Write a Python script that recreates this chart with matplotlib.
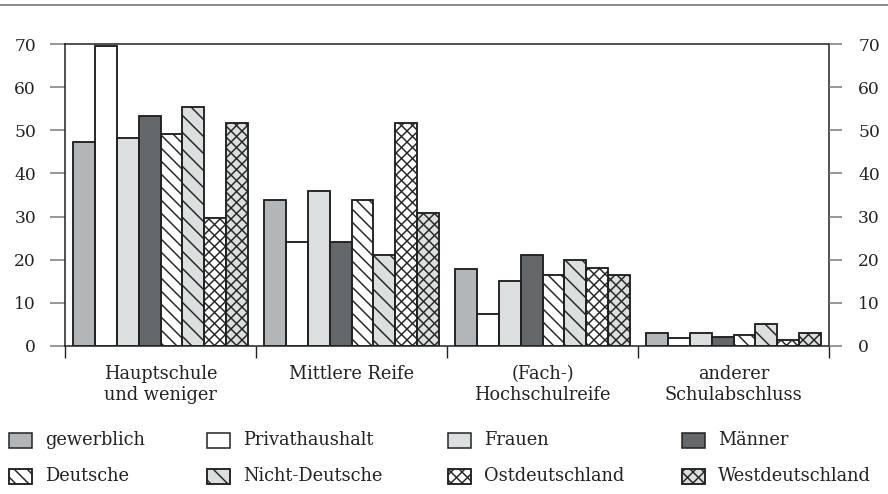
import numpy as np
import matplotlib
matplotlib.use('Agg')
import matplotlib.pyplot as plt
from matplotlib.patches import Rectangle
from matplotlib.lines import Line2D
from matplotlib.collections import LineCollection
from matplotlib.transforms import IdentityTransform

categories = ['Hauptschule\nund weniger', 'Mittlere Reife',
              '(Fach-)\nHochschulreife', 'anderer\nSchulabschluss']
series = ['gewerblich', 'Privathaushalt', 'Frauen', 'Männer',
          'Deutsche', 'Nicht-Deutsche', 'Ostdeutschland', 'Westdeutschland']

gewerblich = [47.2, 33.9, 17.8, 2.9]
privathaushalt = [69.5, 24.2, 7.4, 1.9]
frauen = [48.3, 36.0, 15.0, 3.0]
maenner = [53.4, 24.2, 21.1, 2.2]
deutsche = [49.2, 33.8, 16.4, 2.6]
nicht_deutsche = [55.3, 21.2, 20.0, 5.0]
ostdeutschland = [29.6, 51.7, 18.0, 1.4]
westdeutschland = [51.7, 30.9, 16.5, 2.9]
yticks = [0, 10, 20, 30, 40, 50, 60, 70]

values = [gewerblich, privathaushalt, frauen, maenner,
          deutsche, nicht_deutsche, ostdeutschland, westdeutschland]
fills = ['#b3b6b9', '#ffffff', '#dcdfe0', '#65686b',
         '#ffffff', '#dcdfe0', '#ffffff', '#dcdfe0']
# hatch: (pixel spacing, kind) ; 'b' = backslash lines, 'x' = cross
hatch_style = [None, None, None, None, (13, 'b'), (17, 'b'), (11, 'x'), (11, 'x')]
EDGE = '#222222'
W, H = 888, 494

plt.rcParams['font.family'] = ['DejaVu Serif']

fig = plt.figure(figsize=(W / 100, H / 100), dpi=100)
ax = fig.add_axes([65 / W, 1 - 346 / H, 764 / W, 302 / H])
ax.set_xlim(-0.5, 3.5)
ax.set_ylim(0, 70)


def hatch_lines(x0, y0, x1, y1, spacing, kind, zorder=3.5):
    # 45 degree lines in pixel space over the box (clip afterwards)
    segs = []
    for c in np.arange(np.floor((x0 + y0) / spacing) * spacing, x1 + y1 + spacing, spacing):
        segs.append([(c - y1 - 2, y1 + 2), (c - y0 + 2, y0 - 2)])
    if kind == 'x':
        for c in np.arange(np.floor((y0 - x1) / spacing) * spacing, y1 - x0 + spacing, spacing):
            segs.append([(y0 - c - 2, y0 - 2), (y1 - c + 2, y1 + 2)])
    return LineCollection(segs, colors=EDGE, linewidths=1.05,
                          transform=IdentityTransform(), zorder=zorder)


x = np.arange(len(categories))
w = 0.114
for i, (vals, fc, hs) in enumerate(zip(values, fills, hatch_style)):
    bars = ax.bar(x + (i - 3.5) * w, vals, w, color=fc, edgecolor=EDGE,
                  linewidth=1.1, zorder=3)
    for r in bars:
        if hs is not None:
            (x0, y0), (x1, y1) = ax.transData.transform(
                [(r.get_x(), 0), (r.get_x() + w, r.get_height())])
            lc = hatch_lines(x0, y0, x1, y1, hs[0], hs[1])
            ax.add_collection(lc)
            lc.set_clip_path(r)
        # edge on top of the hatch lines
        ax.bar(r.get_x() + w / 2, r.get_height(), w, fill=False,
               edgecolor=EDGE, linewidth=1.1, zorder=4)

for s in ax.spines.values():
    s.set_color(EDGE)
    s.set_linewidth(1.1)
    s.set_zorder(5)

ax.set_yticks(yticks)
ax.tick_params(axis='y', direction='out', length=10.8, width=1.1,
               color='#7a7a7a', labelsize=12.3, pad=10, labelcolor=EDGE)
ax2 = ax.twinx()
ax2.set_ylim(0, 70)
ax2.set_yticks(yticks)
ax2.tick_params(axis='y', direction='out', length=9, width=1.1,
                color='#7a7a7a', labelsize=12.3, pad=12, labelcolor=EDGE)
for s in ax2.spines.values():
    s.set_visible(False)

ax.set_xticks(x)
ax.set_xticklabels(categories, fontsize=12.8, color=EDGE, linespacing=1.15)
ax.set_xticks(np.arange(-0.5, 4.0, 1.0), minor=True)
ax.tick_params(axis='x', which='major', length=0, pad=14)
ax.tick_params(axis='x', which='minor', length=8.6, width=1.0, color=EDGE)

# legend, two rows of four, placed in pixels
leg_cols = [9, 207, 448, 682]
leg_rows = [440, 476]
box_w, box_h = 23, 15
for i, name in enumerate(series):
    bx = leg_cols[i % 4]
    by = H - leg_rows[i // 4] - box_h / 2
    box = Rectangle((bx, by), box_w, box_h, facecolor=fills[i], edgecolor=EDGE,
                    linewidth=1.1, transform=IdentityTransform(), zorder=3)
    fig.add_artist(box)
    hs = hatch_style[i]
    if hs is not None:
        lc = hatch_lines(bx, by, bx + box_w, by + box_h, hs[0], hs[1])
        fig.add_artist(lc)
        lc.set_clip_path(box)
        fig.add_artist(Rectangle((bx, by), box_w, box_h, fill=False, edgecolor=EDGE,
                                 linewidth=1.1, transform=IdentityTransform(), zorder=4))
    fig.text((bx + 36) / W, 1 - leg_rows[i // 4] / H, name, fontsize=12.8,
             color=EDGE, va='center', ha='left')

fig.add_artist(Line2D([0, 1], [1 - 5 / H, 1 - 5 / H], transform=fig.transFigure,
                      color='#777777', linewidth=1.2))

fig.savefig('out.png', dpi=100)
